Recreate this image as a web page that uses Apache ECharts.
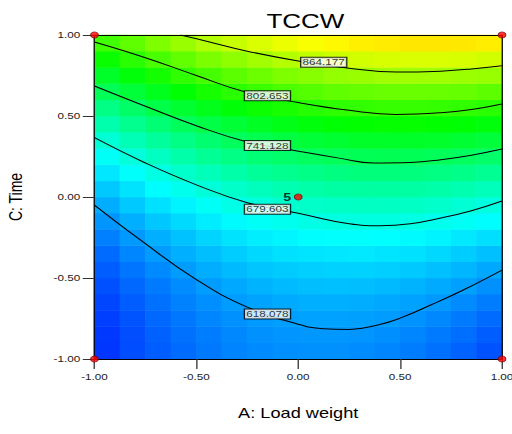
<!DOCTYPE html>
<html>
<head>
<meta charset="utf-8">
<title>TCCW contour</title>
<script src="https://cdn.jsdelivr.net/npm/echarts/dist/echarts.min.js"></script>
<style>
  html, body { margin: 0; padding: 0; background: #fff; overflow: hidden; }
  /* the plot is laid out narrow and widened horizontally */
  #chart { width: 394px; height: 434px; transform: scaleX(1.2995); transform-origin: 0 0; }
</style>
</head>
<body>
<div id="chart"></div>
<script>
// Coded factor levels at the centre of each surface cell
const aCenters = [-0.9375, -0.8125, -0.6875, -0.5625, -0.4375, -0.3125, -0.1875, -0.0625,
                  0.0625, 0.1875, 0.3125, 0.4375, 0.5625, 0.6875, 0.8125, 0.9375];
const cCenters = [-0.95, -0.85, -0.75, -0.65, -0.55, -0.45, -0.35, -0.25, -0.15, -0.05,
                  0.05, 0.15, 0.25, 0.35, 0.45, 0.55, 0.65, 0.75, 0.85, 0.95];

// Predicted TCCW, one row per C level (bottom to top), one column per A level
const tccwGrid = [
  [570, 580, 588, 595, 601, 606, 609, 611, 612, 612, 610, 607, 603, 597, 591, 583],
  [571, 581, 590, 597, 603, 608, 612, 614, 615, 615, 614, 611, 607, 602, 596, 588],
  [574, 584, 593, 600, 607, 612, 616, 618, 620, 620, 619, 617, 613, 608, 602, 595],
  [577, 588, 597, 605, 611, 617, 621, 624, 626, 626, 625, 623, 620, 616, 610, 603],
  [582, 593, 602, 610, 617, 623, 628, 631, 633, 634, 633, 631, 628, 624, 619, 612],
  [588, 599, 609, 617, 625, 631, 636, 639, 641, 642, 642, 641, 638, 634, 629, 623],
  [595, 607, 617, 626, 633, 640, 645, 649, 651, 652, 653, 651, 649, 645, 640, 634],
  [604, 616, 626, 635, 643, 650, 655, 659, 662, 664, 664, 663, 661, 658, 653, 648],
  [614, 626, 637, 646, 654, 661, 667, 671, 675, 677, 677, 677, 675, 672, 668, 662],
  [625, 638, 649, 658, 667, 674, 680, 685, 688, 690, 691, 691, 690, 687, 683, 678],
  [638, 650, 662, 672, 681, 688, 694, 699, 703, 706, 707, 707, 706, 703, 700, 695],
  [652, 665, 676, 687, 696, 703, 710, 715, 719, 722, 724, 724, 723, 721, 718, 713],
  [667, 680, 692, 703, 712, 720, 727, 733, 737, 740, 742, 743, 742, 740, 737, 733],
  [683, 697, 709, 720, 730, 738, 745, 751, 756, 759, 762, 762, 762, 761, 758, 754],
  [701, 715, 727, 739, 749, 757, 765, 771, 776, 780, 782, 784, 784, 782, 780, 776],
  [720, 734, 747, 759, 769, 778, 786, 792, 798, 802, 804, 806, 806, 805, 803, 800],
  [741, 755, 768, 780, 791, 800, 808, 815, 820, 825, 828, 830, 830, 829, 828, 824],
  [762, 777, 790, 803, 813, 823, 831, 839, 844, 849, 852, 855, 855, 855, 853, 851],
  [785, 800, 814, 826, 838, 847, 856, 864, 870, 875, 878, 881, 882, 882, 881, 878],
  [810, 825, 839, 852, 863, 873, 882, 890, 896, 902, 906, 908, 910, 910, 909, 907]
];

// Contour levels and the traced (A, C) path of each one
const contourLevels = [618.078, 679.603, 741.128, 802.653, 864.177];
const contour618 = [[-1, -0.05], [-0.775, -0.265], [-0.5, -0.51], [-0.25, -0.68], [0, -0.785],
                    [0.12, -0.813], [0.25, -0.818], [0.4, -0.787], [0.5, -0.748], [0.65, -0.667],
                    [0.81, -0.574], [1, -0.451]];
const contour680 = [[-1, 0.366], [-0.75, 0.21], [-0.5, 0.075], [-0.25, -0.035], [0, -0.1],
                    [0.25, -0.165], [0.4, -0.177], [0.55, -0.165], [0.7, -0.13], [0.85, -0.085],
                    [1, -0.025]];
const contour741 = [[-1, 0.685], [-0.75, 0.56], [-0.5, 0.44], [-0.25, 0.34], [0, 0.283],
                    [0.2, 0.24], [0.37, 0.21], [0.55, 0.213], [0.7, 0.23], [0.85, 0.258],
                    [1, 0.296]];
const contour803 = [[-1, 0.957], [-0.75, 0.86], [-0.5, 0.75], [-0.25, 0.645], [0, 0.583],
                    [0.25, 0.535], [0.48, 0.51], [0.7, 0.52], [0.85, 0.54], [1, 0.574]];
const contour864 = [[-0.578, 1], [-0.45, 0.962], [-0.25, 0.9], [0, 0.84], [0.25, 0.795],
                    [0.48, 0.771], [0.7, 0.777], [0.85, 0.79], [1, 0.81]];
const contourPaths = [contour618, contour680, contour741, contour803, contour864];

// Where each level's tag sits on its contour
const labelSpots = [[-0.151, -0.722], [-0.151, -0.075], [-0.151, 0.318], [-0.151, 0.625], [0.125, 0.832]];

// Design points: factorial corners plus the replicated centre point
const designPoints = [[-1, -1], [1, -1], [-1, 1], [1, 1], [0, 0]];
const centreReplicates = 5;

const FONT = '"Liberation Sans", Arial, Helvetica, sans-serif';

const heatData = [];
tccwGrid.forEach((row, j) => row.forEach((v, i) => heatData.push([i, j, v])));

const contourSeries = contourPaths.map((path, k) => ({
  type: 'line',
  name: String(contourLevels[k]),
  data: path,
  smooth: 0.45,
  symbol: 'none',
  silent: true,
  z: 4,
  lineStyle: { color: '#000', width: 1 }
}));

const option = {
  animation: false,
  backgroundColor: '#fff',
  title: {
    text: 'TCCW',
    left: 230,
    textAlign: 'center',
    top: 6,
    textStyle: { fontFamily: FONT, fontSize: 20, fontWeight: 'normal', color: '#000' }
  },
  grid: { left: 72.7, right: 7.7, top: 35, bottom: 75, containLabel: false, outerBoundsMode: 'none' },
  visualMap: {
    type: 'continuous',
    show: false,
    seriesIndex: 0,
    min: 545,
    max: 1017,
    inRange: { color: ['#0000ff', '#00ffff', '#00ff00', '#ffff00', '#ff0000'] }
  },
  xAxis: [
    {
      type: 'value', min: -1, max: 1, interval: 0.5, z: 6,
      name: 'A: Load weight', nameLocation: 'middle', nameGap: 47, nameMoveOverlap: false,
      nameTextStyle: { fontFamily: FONT, fontSize: 14, color: '#000' },
      axisLine: { show: true, onZero: false, lineStyle: { color: '#000', width: 1 } },
      axisTick: { show: true, length: 10, lineStyle: { color: '#333' } },
      axisLabel: { fontFamily: FONT, fontSize: 9, color: '#222', margin: 13,
                   showMinLabel: true, showMaxLabel: true, formatter: v => v.toFixed(2) },
      splitLine: { show: false }
    },
    { type: 'category', data: aCenters.map(String), show: false },
    {
      type: 'value', min: -1, max: 1, position: 'top', z: 6,
      axisLine: { show: true, onZero: false, lineStyle: { color: '#000', width: 1 } },
      axisTick: { show: false }, axisLabel: { show: false }, splitLine: { show: false }
    }
  ],
  yAxis: [
    {
      type: 'value', min: -1, max: 1, interval: 0.5, z: 6,
      name: 'C: Time', nameLocation: 'middle', nameGap: 54, nameMoveOverlap: false,
      nameTextStyle: { fontFamily: FONT, fontSize: 14, color: '#000' },
      axisLine: { show: true, onZero: false, lineStyle: { color: '#000', width: 1 } },
      axisTick: { show: true, length: 9, lineStyle: { color: '#333' } },
      axisLabel: { fontFamily: FONT, fontSize: 9, color: '#222', margin: 11,
                   showMinLabel: true, showMaxLabel: true, formatter: v => v.toFixed(2) },
      splitLine: { show: false }
    },
    { type: 'category', data: cCenters.map(String), show: false },
    {
      type: 'value', min: -1, max: 1, position: 'right', z: 6,
      axisLine: { show: true, onZero: false, lineStyle: { color: '#000', width: 1 } },
      axisTick: { show: false }, axisLabel: { show: false }, splitLine: { show: false }
    }
  ],
  series: [
    {
      type: 'heatmap',
      xAxisIndex: 1,
      yAxisIndex: 1,
      data: heatData,
      silent: true,
      z: 1,
      emphasis: { disabled: true }
    },
    ...contourSeries,
    {
      type: 'scatter',
      name: 'levels',
      data: labelSpots.map((p, k) => ({
        value: p,
        label: { formatter: contourLevels[k].toFixed(3) }
      })),
      symbolSize: 0,
      itemStyle: { color: 'transparent' },
      silent: true,
      z: 7,
      label: {
        show: true,
        position: 'inside',
        fontFamily: FONT,
        fontSize: 9,
        lineHeight: 9,
        color: '#000',
        backgroundColor: '#fff',
        borderColor: '#000',
        borderWidth: 1,
        padding: [0, 1, 0, 1],
        textShadowColor: 'rgba(0,0,0,0.35)',
        textShadowOffsetX: 0.6,
        textShadowBlur: 0
      }
    },
    {
      type: 'scatter',
      name: 'design',
      data: designPoints.map(p => {
        const item = { value: p };
        if (p[0] === 0 && p[1] === 0) {
          item.label = {
            show: true, position: 'left', distance: 2, formatter: String(centreReplicates),
            fontFamily: FONT, fontSize: 11, fontWeight: 'bold', color: '#000'
          };
        }
        return item;
      }),
      symbol: 'circle',
      symbolSize: 6,
      silent: true,
      z: 10,
      clip: false,
      itemStyle: { color: '#ff0000', borderColor: '#7a0000', borderWidth: 0.8 }
    }
  ]
};

const chart = echarts.init(document.getElementById('chart'), null, { renderer: 'svg' });
chart.setOption(option);
</script>
</body>
</html>
